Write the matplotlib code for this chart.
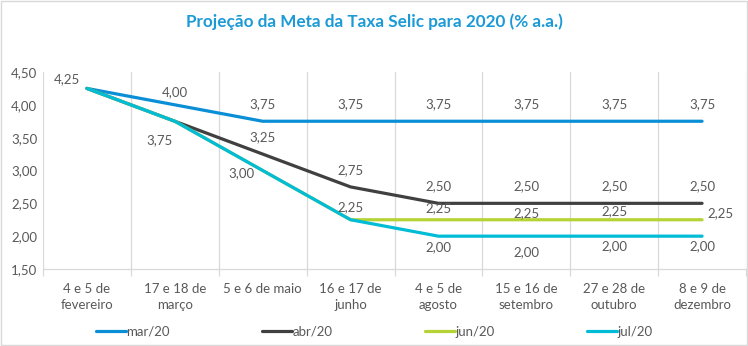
import matplotlib.pyplot as plt
from matplotlib.patches import Rectangle

plt.rcParams['font.family'] = ['Lato', 'DejaVu Sans']

# Reunioes do Copom em 2020
categories = ['4 e 5 de\nfevereiro', '17 e 18 de\nmarço', '5 e 6 de maio\n',
              '16 e 17 de\njunho', '4 e 5 de\nagosto', '15 e 16 de\nsetembro',
              '27 e 28 de\noutubro', '8 e 9 de\ndezembro']

mar20 = [4.25, 4.00, 3.75, 3.75, 3.75, 3.75, 3.75, 3.75]
abr20 = [4.25, 3.75, 3.25, 2.75, 2.50, 2.50, 2.50, 2.50]
jun20 = [4.25, 3.75, 3.00, 2.25, 2.25, 2.25, 2.25, 2.25]
jul20 = [4.25, 3.75, 3.00, 2.25, 2.00, 2.00, 2.00, 2.00]

yticks = [1.50, 2.00, 2.50, 3.00, 3.50, 4.00, 4.50]

series = [
    ('mar/20', mar20, '#0A8FD6',
     [(-20, 9), (0, 13), (0, 17), (0, 17), (0, 17), (0, 17), (0, 17), (0, 17)]),
    ('abr/20', abr20, '#404040',
     [None, None, (0, 17), (0, 17), (0, 17), (0, 17), (0, 17), (0, 17)]),
    ('jun/20', jun20, '#B5D334',
     [None, None, None, None, (0, 12), (0, 7), (0, 9), (18, 7)]),
    ('jul/20', jul20, '#00BCD6',
     [None, (-15, -19), (-21, -3), (0, 13), (0, -11), (0, -16), (0, -10), (0, -10)]),
]

fig = plt.figure(figsize=(7.48, 3.46), dpi=100)
ax = fig.add_axes([43 / 748, 77 / 346, 703 / 748, 197 / 346])

x = list(range(len(categories)))
for name, vals, color, offs in series:
    ax.plot(x, vals, color=color, lw=2.3, label=name,
            solid_capstyle='round', solid_joinstyle='round')
    for xi, v, off in zip(x, vals, offs):
        if off is None:
            continue
        ax.annotate(f'{v:.2f}'.replace('.', ','), (xi, v), xytext=off,
                    textcoords='offset pixels', ha='center', va='center',
                    fontsize=9.5, color='#595959')

ax.set_xlim(-0.5, len(categories) - 0.5)
ax.set_ylim(yticks[0], yticks[-1])
ax.set_yticks(yticks)
ax.set_yticklabels([f'{t:.2f}'.replace('.', ',') for t in yticks])
ax.set_xticks(x)
ax.set_xticklabels(categories, linespacing=1.45)
ax.set_xticks([i - 0.5 for i in range(len(categories) + 1)], minor=True)
ax.grid(True, axis='x', which='minor', color='#d9d9d9', lw=0.9)
ax.tick_params(axis='x', which='major', length=0, pad=10, labelsize=9.5,
               labelcolor='#595959')
ax.tick_params(axis='x', which='minor', length=5, color='#d9d9d9', width=0.9)
ax.tick_params(axis='y', length=0, pad=4, labelsize=9.5, labelcolor='#595959')
for s in ['top', 'right', 'left']:
    ax.spines[s].set_visible(False)
ax.spines['bottom'].set_color('#d9d9d9')
ax.spines['bottom'].set_linewidth(0.9)

fig.text(0.5, 1 - 22 / 346, 'Projeção da Meta da Taxa Selic para 2020 (% a.a.)',
         ha='center', va='center', fontsize=12.3, fontweight='bold', color='#1B9AD6')

fig.legend(loc='center', bbox_to_anchor=(0.5, 1 - 332 / 346), ncol=4,
           frameon=False, fontsize=9.5, handlelength=2.3, handletextpad=0.0,
           columnspacing=7.0, labelcolor='#595959')

fig.add_artist(Rectangle((0.001, 0.002), 0.997, 0.995, transform=fig.transFigure,
                         fill=False, edgecolor='#d9d9d9', lw=1))

fig.savefig('out.png', dpi=100)
